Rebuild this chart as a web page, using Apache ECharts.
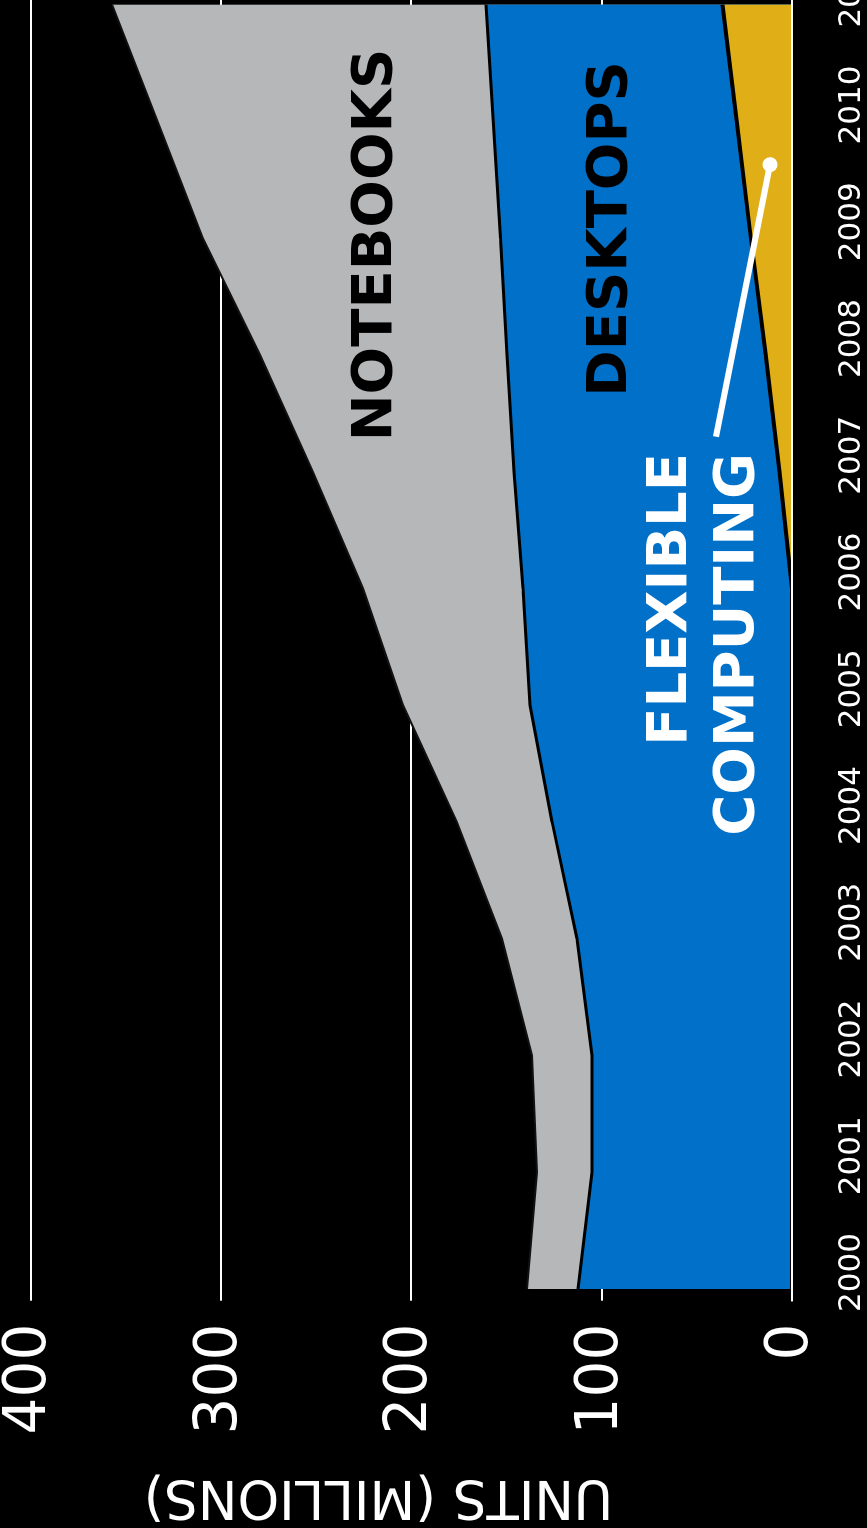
<!DOCTYPE html>
<html>
<head>
<meta charset="utf-8">
<script src="https://cdn.jsdelivr.net/npm/echarts@6/dist/echarts.min.js"></script>
<style>
  html, body { margin: 0; padding: 0; background: #000; overflow: hidden; width: 867px; height: 1528px; }
  #chart {
    position: absolute; left: 0; top: 0;
    width: 1528px; height: 867px;
    transform-origin: 0 0;
    transform: translate(0px, 1528px) rotate(-90deg);
  }
</style>
</head>
<body>
<div id="chart"></div>
<script>
// ---- data (millions of units) ----
const years = [2000, 2001, 2002, 2003, 2004, 2005, 2006, 2007, 2008, 2009, 2010, 2011];
const flexibleComputing = [0, 0, 0, 0, 0, 0, 0, 6.6, 13.8, 21.6, 29.0, 36.5];
const desktops = [112.4, 105.0, 105.0, 112.9, 126.0, 137.6, 141.3, 139.4, 135.9, 131.5, 127.9, 124.2];
const notebooks = [26.8, 28.9, 31.6, 39.4, 50.0, 66.7, 84.0, 105.6, 129.7, 156.3, 176.3, 196.4];
const valueAxisMin = 0, valueAxisMax = 400, valueAxisStep = 100;
// annotation pointer (year, units) from label to the flexible-computing band
const pointerFrom = [2007.30, 39.9];
const pointerTo = [2009.63, 11.55];

// stacked totals (layer tops), drawn as overlapping areas from zero
const topFlexible = flexibleComputing.slice();
const topDesktops = desktops.map((v, i) => v + topFlexible[i]);
const topNotebooks = notebooks.map((v, i) => v + topDesktops[i]);
const pairs = arr => years.map((y, i) => [y, +arr[i].toFixed(2)]);
const FONT = 'DejaVu Sans';

const chart = echarts.init(document.getElementById('chart'), null, { renderer: 'canvas' });
chart.setOption({
  backgroundColor: '#000',
  animation: false,
  grid: { left: 227.3, right: 0, top: 30.4, bottom: 75, containLabel: false, outerBoundsMode: 'none' },
  xAxis: {
    type: 'value', min: 1999.9, max: 2011.04, z: 10,
    axisLine: { show: true, onZero: false, lineStyle: { color: '#fff', width: 2 } },
    axisTick: { show: false },
    splitLine: { show: false },
    axisLabel: {
      customValues: years,
      formatter: v => String(v),
      color: '#fff', fontSize: 31, fontFamily: FONT,
      margin: 44, padding: [0, 0, 0, 33]
    }
  },
  yAxis: {
    type: 'value', min: valueAxisMin, max: valueAxisMax, interval: valueAxisStep,
    axisLine: { show: false }, axisTick: { show: false },
    splitLine: { show: true, lineStyle: { color: '#fff', width: 2 } },
    axisLabel: { color: '#fff', fontSize: 58, fontFamily: FONT, margin: 23, padding: [10, 0, 0, 0] },
    name: 'UNITS (MILLIONS)',
    nameLocation: 'middle', nameRotate: 90, nameGap: 168,
    nameTextStyle: { color: '#fff', fontSize: 53, fontFamily: FONT, padding: [0, 0, 0, 66] }
  },
  series: [
    {
      name: 'Notebooks', type: 'line', z: 3,
      data: pairs(topNotebooks), symbol: 'none',
      lineStyle: { color: '#111', width: 2 },
      areaStyle: { color: '#B6B7B9', opacity: 1, origin: 'start' }
    },
    {
      name: 'Desktops', type: 'line', z: 4,
      data: pairs(topDesktops), symbol: 'none',
      lineStyle: { color: '#000', width: 3 },
      areaStyle: { color: '#0070C8', opacity: 1, origin: 'start' }
    },
    {
      name: 'Flexible computing', type: 'line', z: 5,
      data: pairs(topFlexible), symbol: 'none',
      lineStyle: { color: '#000', width: 4 },
      areaStyle: { color: '#E0AE17', opacity: 1, origin: 'start' }
    },
    {
      name: 'pointer', type: 'line', z: 8, silent: true,
      data: [
        { value: pointerFrom, symbol: 'none' },
        { value: pointerTo, symbol: 'circle', symbolSize: 15 }
      ],
      showSymbol: true,
      lineStyle: { color: '#fff', width: 6 },
      itemStyle: { color: '#fff' }
    }
  ],
  graphic: [
    { type: 'text', x: 1283, y: 376, z: 20,
      style: { text: 'NOTEBOOKS', fill: '#000', fontSize: 56, fontWeight: 'bold', fontFamily: FONT, align: 'center', verticalAlign: 'middle' } },
    { type: 'text', x: 1299, y: 611, z: 20,
      style: { text: 'DESKTOPS', fill: '#000', fontSize: 56, fontWeight: 'bold', fontFamily: FONT, align: 'center', verticalAlign: 'middle' } },
    { type: 'text', x: 1075, y: 671, z: 20,
      style: { text: 'FLEXIBLE', fill: '#fff', fontSize: 56, fontWeight: 'bold', fontFamily: FONT, align: 'right', verticalAlign: 'middle' } },
    { type: 'text', x: 1075, y: 738, z: 20,
      style: { text: 'COMPUTING', fill: '#fff', fontSize: 56, fontWeight: 'bold', fontFamily: FONT, align: 'right', verticalAlign: 'middle' } }
  ]
});
</script>
</body>
</html>
